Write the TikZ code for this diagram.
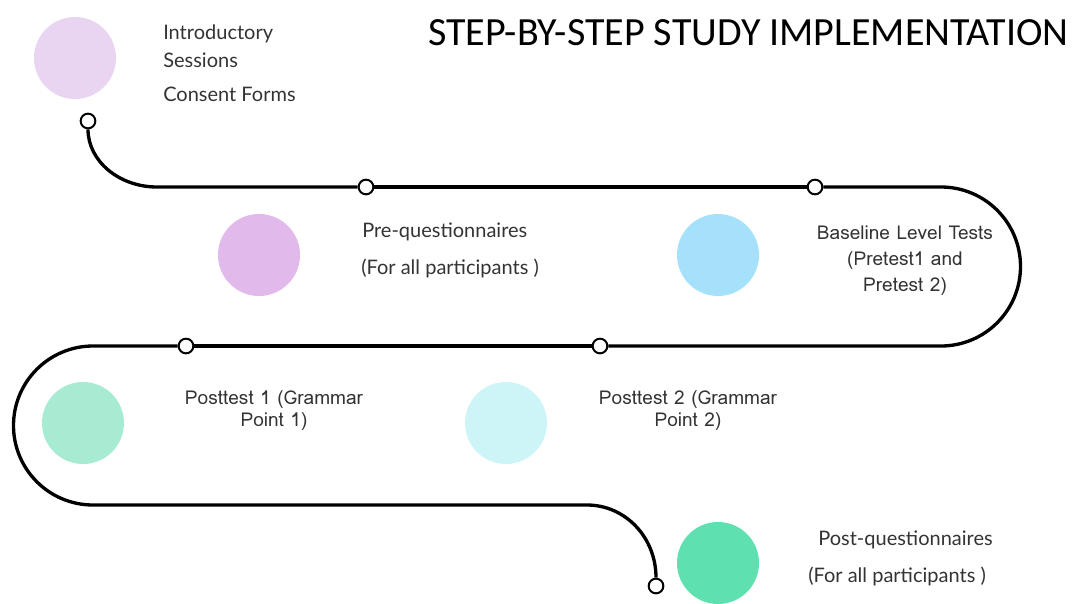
\documentclass[tikz,border=0pt]{standalone}
\usepackage{fontspec}
\setmainfont{Lato}
\newfontfamily\titlefont{Carlito}
\newfontfamily\thinfont{Loma}
\usetikzlibrary{positioning}

\definecolor{lavender}{HTML}{E9D4F1}
\definecolor{orchid}{HTML}{E1B9EA}
\definecolor{skyblue}{HTML}{A5E1FA}
\definecolor{mint}{HTML}{A6EBD2}
\definecolor{paleaqua}{HTML}{CDF5F8}
\definecolor{seagreen}{HTML}{5EE0B1}

\begin{document}
\begin{tikzpicture}[
        x=0.75pt, y=-0.75pt,
        every node/.style={text=black!80},
        blob/.style={circle, minimum size=61.5pt, inner sep=0pt, fill=#1},
        milestone/.style={circle, draw=black, line width=1.5pt, fill=white, minimum size=11pt, inner sep=0pt},
        road/.style={line width=2.5pt, draw=black},
        label/.style={font=\fontsize{15}{20}\selectfont, align=left, anchor=west, inner sep=0pt},
        tlabel/.style={font=\thinfont\fontsize{14.3}{19.5}\selectfont, align=center, inner sep=0pt}
        ]
        \useasboundingbox (0,0) rectangle (1073,603);

        % title
        \node[font=\titlefont\fontsize{30}{32}\selectfont, text=black, anchor=base west, inner sep=0pt] (title) at (428,45) {STEP-BY-STEP STUDY IMPLEMENTATION};

        % coloured steps
        \node[blob=lavender] (intro) at (75,58) {};
        \node[blob=orchid] (preq) at (259,255) {};
        \node[blob=skyblue] (base) at (718,255) {};
        \node[blob=mint] (post1) at (83,423) {};
        \node[blob=paleaqua] (post2) at (506,423) {};
        \node[blob=seagreen] (postq) at (718,563) {};

        % milestones on the road
        \node[milestone] (m1) at (88,121) {};
        \node[milestone] (m2) at (366,187) {};
        \node[milestone] (m3) at (815,187) {};
        \node[milestone] (m4) at (186,346) {};
        \node[milestone] (m5) at (600,346) {};
        \node[milestone] (m6) at (656,586) {};

        % the winding road (y runs downwards, so the angles are mirrored)
        \draw[road] (m1.south) .. controls (88,161) and (119,187) .. (157,187) -- (m2.west);
        \draw[road] (m2.east) -- (m3.west);
        \draw[road] (m3.east) -- (941,187) arc[start angle=-90, end angle=90, radius=79.5] -- (m5.east);
        \draw[road] (m5.west) -- (m4.east);
        \draw[road] (m4.west) -- (93,346) arc[start angle=-90, end angle=-270, radius=79.5] -- (587,505)
            .. controls (625,505) and (656,537) .. (m6.north);

        % texts
        \node[label] (introtxt) at (163,34) {Introductory};
        \node[label] (introtxt2) at (163,60) {Sessions};
        \node[label] (consent) at (163,94) {Consent Forms};
        \node[label] (pretxt) at (362,232) {Pre-questionnaires};
        \node[label] (pretxt2) at (361,268) {(For all participants )};
        \node[tlabel] (basetxt) at (905,261) {Baseline Level Tests\\(Pretest1 and\\Pretest 2)};
        \node[tlabel, font=\thinfont\fontsize{14.3}{16.5}\selectfont] (post1txt) at (274,411) {Posttest 1 (Grammar\\Point 1)};
        \node[tlabel, font=\thinfont\fontsize{14.3}{16.5}\selectfont] (post2txt) at (688,411) {Posttest 2 (Grammar\\Point 2)};
        \node[label] (postqtxt) at (818,540) {Post-questionnaires};
        \node[label] (postqtxt2) at (808,576) {(For all participants )};
    \end{tikzpicture}
\end{document}
